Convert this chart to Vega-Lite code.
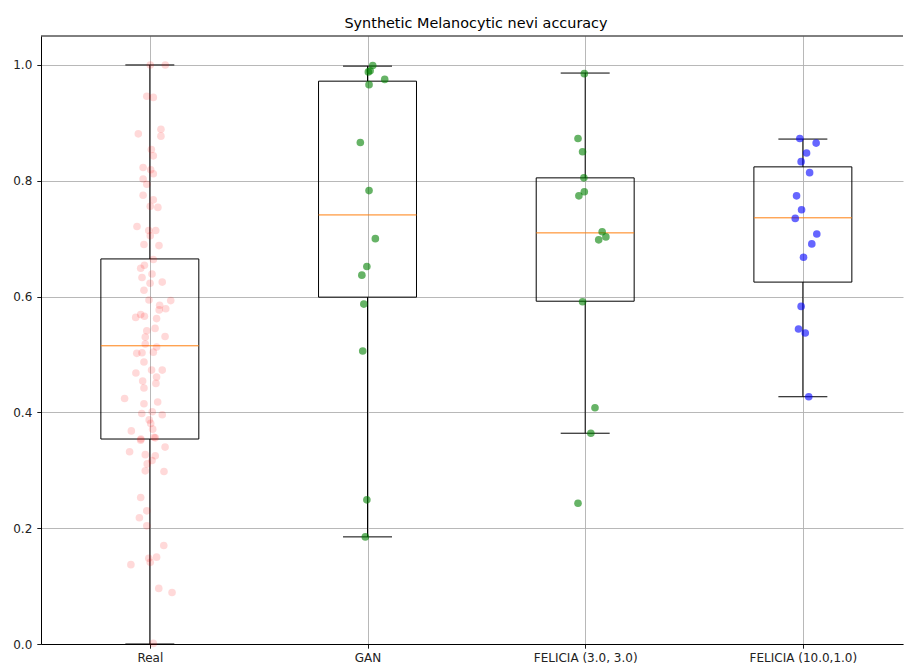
{
 "$schema": "https://vega.github.io/schema/vega-lite/v6.json",
 "width": 862,
 "height": 608,
 "autosize": {"type": "none"},
 "padding": {"left": 41, "top": 36, "right": 1, "bottom": 25},
 "background": "white",
 "title": {"text": "Synthetic Melanocytic nevi accuracy", "fontSize": 14.4, "fontWeight": "normal", "font": "DejaVu Sans", "color": "#000000", "offset": 4, "dx": 4},
 "config": {
  "view": {"stroke": null},
  "axis": {"labelFont": "DejaVu Sans", "labelFontSize": 12, "labelColor": "#222222", "domainColor": "#000000", "domainWidth": 1, "tickColor": "#000000", "tickSize": 4.2, "tickWidth": 0.9, "labelPadding": 4, "gridColor": "#b0b0b0", "gridWidth": 0.9, "title": null}
 },
 "datasets": {
  "boxes": [
   {"pos": 1, "q1": 0.354, "q3": 0.665, "med": 0.515, "lo": 0.0, "hi": 1.0},
   {"pos": 2, "q1": 0.599, "q3": 0.972, "med": 0.741, "lo": 0.185, "hi": 0.998},
   {"pos": 3, "q1": 0.592, "q3": 0.805, "med": 0.710, "lo": 0.364, "hi": 0.986},
   {"pos": 4, "q1": 0.625, "q3": 0.824, "med": 0.736, "lo": 0.427, "hi": 0.872}
  ],
  "points": [
   {"g": "Real", "x": 1.002, "v": 1.0},
   {"g": "Real", "x": 1.071, "v": 1.0},
   {"g": "Real", "x": 0.986, "v": 0.946},
   {"g": "Real", "x": 1.016, "v": 0.944},
   {"g": "Real", "x": 0.947, "v": 0.881},
   {"g": "Real", "x": 1.051, "v": 0.889},
   {"g": "Real", "x": 1.051, "v": 0.877},
   {"g": "Real", "x": 1.007, "v": 0.854},
   {"g": "Real", "x": 1.016, "v": 0.843},
   {"g": "Real", "x": 0.969, "v": 0.823},
   {"g": "Real", "x": 1.004, "v": 0.819},
   {"g": "Real", "x": 1.016, "v": 0.812},
   {"g": "Real", "x": 0.969, "v": 0.803},
   {"g": "Real", "x": 0.986, "v": 0.794},
   {"g": "Real", "x": 0.969, "v": 0.775},
   {"g": "Real", "x": 1.016, "v": 0.767},
   {"g": "Real", "x": 1.002, "v": 0.756},
   {"g": "Real", "x": 1.037, "v": 0.754},
   {"g": "Real", "x": 0.941, "v": 0.721},
   {"g": "Real", "x": 0.995, "v": 0.714},
   {"g": "Real", "x": 1.027, "v": 0.714},
   {"g": "Real", "x": 1.002, "v": 0.705},
   {"g": "Real", "x": 0.973, "v": 0.690},
   {"g": "Real", "x": 1.042, "v": 0.688},
   {"g": "Real", "x": 1.016, "v": 0.664},
   {"g": "Real", "x": 0.975, "v": 0.654},
   {"g": "Real", "x": 0.958, "v": 0.649},
   {"g": "Real", "x": 1.010, "v": 0.639},
   {"g": "Real", "x": 0.964, "v": 0.633},
   {"g": "Real", "x": 1.001, "v": 0.623},
   {"g": "Real", "x": 1.057, "v": 0.625},
   {"g": "Real", "x": 0.973, "v": 0.611},
   {"g": "Real", "x": 0.996, "v": 0.594},
   {"g": "Real", "x": 1.096, "v": 0.593},
   {"g": "Real", "x": 1.045, "v": 0.585},
   {"g": "Real", "x": 1.073, "v": 0.579},
   {"g": "Real", "x": 1.043, "v": 0.577},
   {"g": "Real", "x": 0.935, "v": 0.564},
   {"g": "Real", "x": 0.958, "v": 0.569},
   {"g": "Real", "x": 0.975, "v": 0.566},
   {"g": "Real", "x": 1.031, "v": 0.562},
   {"g": "Real", "x": 0.986, "v": 0.541},
   {"g": "Real", "x": 1.024, "v": 0.545},
   {"g": "Real", "x": 1.070, "v": 0.531},
   {"g": "Real", "x": 0.979, "v": 0.530},
   {"g": "Real", "x": 0.979, "v": 0.518},
   {"g": "Real", "x": 1.031, "v": 0.513},
   {"g": "Real", "x": 0.940, "v": 0.502},
   {"g": "Real", "x": 0.964, "v": 0.503},
   {"g": "Real", "x": 1.016, "v": 0.504},
   {"g": "Real", "x": 0.973, "v": 0.487},
   {"g": "Real", "x": 1.008, "v": 0.473},
   {"g": "Real", "x": 1.057, "v": 0.473},
   {"g": "Real", "x": 0.936, "v": 0.468},
   {"g": "Real", "x": 1.031, "v": 0.461},
   {"g": "Real", "x": 0.967, "v": 0.454},
   {"g": "Real", "x": 1.028, "v": 0.450},
   {"g": "Real", "x": 0.973, "v": 0.442},
   {"g": "Real", "x": 0.884, "v": 0.424},
   {"g": "Real", "x": 1.036, "v": 0.418},
   {"g": "Real", "x": 0.973, "v": 0.415},
   {"g": "Real", "x": 1.011, "v": 0.401},
   {"g": "Real", "x": 0.963, "v": 0.398},
   {"g": "Real", "x": 1.057, "v": 0.396},
   {"g": "Real", "x": 0.997, "v": 0.387},
   {"g": "Real", "x": 1.004, "v": 0.381},
   {"g": "Real", "x": 0.915, "v": 0.368},
   {"g": "Real", "x": 1.013, "v": 0.371},
   {"g": "Real", "x": 0.959, "v": 0.354},
   {"g": "Real", "x": 1.019, "v": 0.357},
   {"g": "Real", "x": 0.958, "v": 0.352},
   {"g": "Real", "x": 1.025, "v": 0.356},
   {"g": "Real", "x": 1.070, "v": 0.340},
   {"g": "Real", "x": 0.907, "v": 0.332},
   {"g": "Real", "x": 0.979, "v": 0.327},
   {"g": "Real", "x": 1.025, "v": 0.325},
   {"g": "Real", "x": 1.010, "v": 0.317},
   {"g": "Real", "x": 0.988, "v": 0.311},
   {"g": "Real", "x": 0.979, "v": 0.299},
   {"g": "Real", "x": 1.065, "v": 0.298},
   {"g": "Real", "x": 0.958, "v": 0.253},
   {"g": "Real", "x": 0.986, "v": 0.230},
   {"g": "Real", "x": 0.952, "v": 0.218},
   {"g": "Real", "x": 0.986, "v": 0.204},
   {"g": "Real", "x": 1.064, "v": 0.170},
   {"g": "Real", "x": 0.995, "v": 0.148},
   {"g": "Real", "x": 1.031, "v": 0.150},
   {"g": "Real", "x": 0.913, "v": 0.137},
   {"g": "Real", "x": 1.002, "v": 0.141},
   {"g": "Real", "x": 1.041, "v": 0.096},
   {"g": "Real", "x": 1.102, "v": 0.089},
   {"g": "Real", "x": 1.016, "v": 0.001},
   {"g": "GAN", "x": 2.024, "v": 0.999},
   {"g": "GAN", "x": 2.012, "v": 0.990},
   {"g": "GAN", "x": 2.004, "v": 0.988},
   {"g": "GAN", "x": 2.079, "v": 0.975},
   {"g": "GAN", "x": 2.007, "v": 0.966},
   {"g": "GAN", "x": 1.967, "v": 0.866},
   {"g": "GAN", "x": 2.007, "v": 0.783},
   {"g": "GAN", "x": 2.036, "v": 0.700},
   {"g": "GAN", "x": 1.997, "v": 0.652},
   {"g": "GAN", "x": 1.974, "v": 0.637},
   {"g": "GAN", "x": 1.983, "v": 0.587},
   {"g": "GAN", "x": 1.978, "v": 0.506},
   {"g": "GAN", "x": 1.997, "v": 0.249},
   {"g": "GAN", "x": 1.990, "v": 0.185},
   {"g": "F3", "x": 2.996, "v": 0.985},
   {"g": "F3", "x": 2.967, "v": 0.873},
   {"g": "F3", "x": 2.988, "v": 0.850},
   {"g": "F3", "x": 2.994, "v": 0.805},
   {"g": "F3", "x": 2.996, "v": 0.781},
   {"g": "F3", "x": 2.971, "v": 0.774},
   {"g": "F3", "x": 3.078, "v": 0.712},
   {"g": "F3", "x": 3.095, "v": 0.703},
   {"g": "F3", "x": 3.062, "v": 0.698},
   {"g": "F3", "x": 2.988, "v": 0.591},
   {"g": "F3", "x": 3.045, "v": 0.408},
   {"g": "F3", "x": 3.026, "v": 0.364},
   {"g": "F3", "x": 2.967, "v": 0.243},
   {"g": "F10", "x": 3.986, "v": 0.873},
   {"g": "F10", "x": 4.061, "v": 0.865},
   {"g": "F10", "x": 4.017, "v": 0.848},
   {"g": "F10", "x": 3.992, "v": 0.833},
   {"g": "F10", "x": 4.031, "v": 0.814},
   {"g": "F10", "x": 3.971, "v": 0.774},
   {"g": "F10", "x": 3.994, "v": 0.750},
   {"g": "F10", "x": 3.965, "v": 0.735},
   {"g": "F10", "x": 4.064, "v": 0.708},
   {"g": "F10", "x": 4.041, "v": 0.691},
   {"g": "F10", "x": 4.003, "v": 0.668},
   {"g": "F10", "x": 3.992, "v": 0.583},
   {"g": "F10", "x": 3.980, "v": 0.544},
   {"g": "F10", "x": 4.011, "v": 0.537},
   {"g": "F10", "x": 4.027, "v": 0.427}
  ]
 },
 "layer": [
  {
   "data": {"name": "boxes"},
   "transform": [
    {"calculate": "datum.pos - 0.225", "as": "bx0"},
    {"calculate": "datum.pos + 0.225", "as": "bx1"}
   ],
   "mark": {"type": "rect", "fill": null, "fillOpacity": 0, "stroke": "#000000", "strokeWidth": 1},
   "encoding": {
    "x": {"field": "bx0", "type": "quantitative", "scale": {"domain": [0.5, 4.46], "nice": false, "zero": false},
          "axis": {"values": [1, 2, 3, 4], "grid": true, "labelExpr": "datum.value == 1 ? 'Real' : datum.value == 2 ? 'GAN' : datum.value == 3 ? 'FELICIA (3.0, 3.0)' : 'FELICIA (10.0,1.0)'"}},
    "x2": {"field": "bx1"},
    "y": {"field": "q1", "type": "quantitative", "scale": {"domain": [0, 1.05], "nice": false, "zero": false},
          "axis": {"values": [0, 0.2, 0.4, 0.6, 0.8, 1.0], "format": ".1f", "grid": true, "labelPadding": 5}},
    "y2": {"field": "q3"}
   }
  },
  {
   "data": {"name": "boxes"},
   "mark": {"type": "rule", "color": "#000000", "strokeWidth": 1},
   "encoding": {
    "x": {"field": "pos", "type": "quantitative"},
    "y": {"field": "q3", "type": "quantitative"},
    "y2": {"field": "hi"}
   }
  },
  {
   "data": {"name": "boxes"},
   "mark": {"type": "rule", "color": "#000000", "strokeWidth": 1},
   "encoding": {
    "x": {"field": "pos", "type": "quantitative"},
    "y": {"field": "lo", "type": "quantitative"},
    "y2": {"field": "q1"}
   }
  },
  {
   "data": {"name": "boxes"},
   "transform": [
    {"calculate": "datum.pos - 0.1125", "as": "cx0"},
    {"calculate": "datum.pos + 0.1125", "as": "cx1"}
   ],
   "layer": [
    {
     "mark": {"type": "rule", "color": "#000000", "strokeWidth": 1},
     "encoding": {
      "x": {"field": "cx0", "type": "quantitative"},
      "x2": {"field": "cx1"},
      "y": {"field": "hi", "type": "quantitative"}
     }
    },
    {
     "mark": {"type": "rule", "color": "#000000", "strokeWidth": 1},
     "encoding": {
      "x": {"field": "cx0", "type": "quantitative"},
      "x2": {"field": "cx1"},
      "y": {"field": "lo", "type": "quantitative"}
     }
    }
   ]
  },
  {
   "data": {"name": "boxes"},
   "transform": [
    {"calculate": "datum.pos - 0.225", "as": "bx0"},
    {"calculate": "datum.pos + 0.225", "as": "bx1"}
   ],
   "mark": {"type": "rule", "color": "#ff7f0e", "strokeWidth": 1},
   "encoding": {
    "x": {"field": "bx0", "type": "quantitative"},
    "x2": {"field": "bx1"},
    "y": {"field": "med", "type": "quantitative"}
   }
  },
  {
   "data": {"name": "points"},
   "mark": {"type": "circle", "size": 58, "strokeWidth": 0},
   "encoding": {
    "x": {"field": "x", "type": "quantitative"},
    "y": {"field": "v", "type": "quantitative"},
    "color": {"field": "g", "type": "nominal", "legend": null,
              "scale": {"domain": ["Real", "GAN", "F3", "F10"], "range": ["#ff0000", "#008000", "#008000", "#0000ff"]}},
    "opacity": {"condition": {"test": "datum.g == 'Real'", "value": 0.15}, "value": 0.6}
   }
  },
  {
   "data": {"values": [{}]},
   "mark": {"type": "rule", "color": "#000000", "strokeWidth": 1},
   "encoding": {"y": {"datum": 1.05}}
  }
 ]
}
